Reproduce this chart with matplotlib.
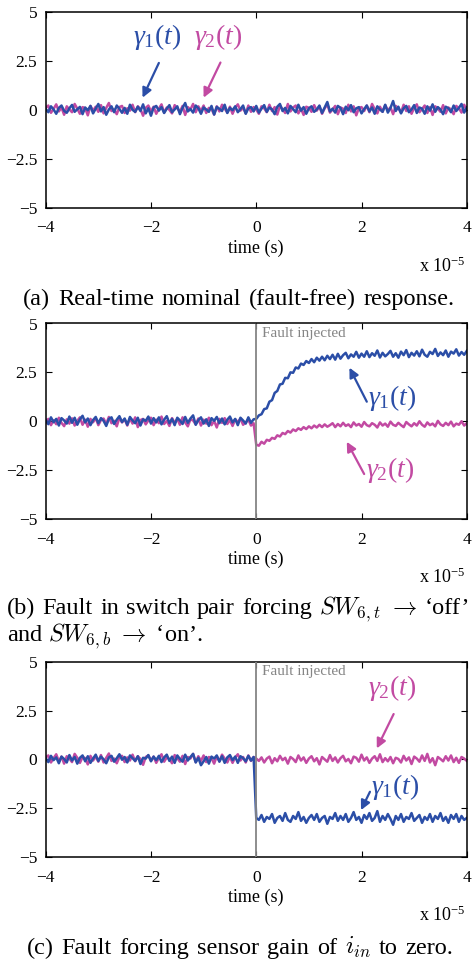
import numpy as np
import matplotlib
matplotlib.use('Agg')
import matplotlib.pyplot as plt

plt.rcParams['font.family'] = ['Liberation Serif', 'DejaVu Serif']
plt.rcParams['mathtext.fontset'] = 'custom'
plt.rcParams['mathtext.rm'] = 'Liberation Serif'
plt.rcParams['mathtext.it'] = 'Liberation Serif:italic'
plt.rcParams['mathtext.bf'] = 'Liberation Serif:bold'
plt.rcParams['axes.unicode_minus'] = True

# ---------------- data (time in units of 1e-5 s) ----------------
x_ticks = [-4, -2, 0, 2, 4]
x_ticklabels = ['\u22124', '\u22122', '0', '2', '4']
y_ticks = [-5, -2.5, 0, 2.5, 5]
y_ticklabels = ['\u22125', '\u22122.5', '0', '2.5', '5']

a_gamma1 = [
    0.05, -0.12, 0.18, 0.02, -0.20, 0.10, 0.22, -0.05, -0.15, 0.08,
    0.25, -0.10, 0.03, 0.15, -0.22, 0.12, -0.02, 0.20, -0.18, 0.06,
    0.30, -0.08, 0.14, -0.25, 0.02, 0.18, -0.12, 0.22, 0.05, -0.15,
    0.10, -0.20, 0.26, 0.00, -0.10, 0.16, -0.06, 0.28, -0.18, 0.08,
    -0.30, 0.12, 0.20, -0.04, 0.14, -0.16, 0.06, 0.24, -0.12, 0.02,
    0.18, -0.22, 0.10, 0.35, -0.08, 0.04, -0.14, 0.22, 0.08, -0.20,
    0.12, 0.02, -0.10, 0.20, -0.24, 0.15, 0.05, -0.06, 0.26, -0.16,
    0.10, -0.02, 0.18, -0.12, 0.04, 0.22, -0.20, 0.08, 0.14, -0.08,
    0.20,
    -0.14, 0.06, 0.24, -0.10, 0.12, 0.02, -0.22, 0.16, 0.30, -0.06,
    0.10, -0.18, 0.20, 0.04, -0.12, 0.26, -0.04, 0.14, -0.20, 0.08,
    0.18, -0.10, 0.02, 0.22, -0.16, 0.12, 0.40, -0.08, 0.06, -0.14,
    0.20, 0.10, -0.22, 0.16, -0.02, 0.24, -0.12, 0.08, 0.14, -0.18,
    0.04, 0.22, -0.08, 0.12, -0.20, 0.18, 0.02, -0.10, 0.26, -0.14,
    0.10, 0.45, -0.06, 0.16, -0.18, 0.08, 0.20, -0.12, 0.02, 0.24,
    -0.16, 0.12, 0.06, -0.20, 0.18, -0.04, 0.28, -0.10, 0.14, 0.02,
    -0.22, 0.16, 0.08, -0.12, 0.22, -0.06, 0.10, 0.30, -0.14, 0.12]

a_gamma2 = [
    0.10, 0.22, -0.15, 0.05, 0.28, -0.08, 0.12, -0.25, 0.18, 0.02,
    -0.12, 0.30, 0.06, -0.20, 0.14, 0.08, -0.28, 0.20, -0.04, 0.16,
    -0.10, 0.24, -0.18, 0.10, 0.35, -0.06, 0.02, -0.22, 0.14, 0.20,
    -0.16, 0.08, -0.04, 0.26, -0.12, 0.18, 0.04, -0.30, 0.10, 0.22,
    -0.08, 0.16, -0.20, 0.06, 0.28, -0.14, 0.12, 0.00, -0.18, 0.24,
    0.08, -0.10, 0.20, -0.26, 0.14, 0.02, 0.30, -0.12, 0.18, -0.06,
    0.22, -0.16, 0.10, 0.04, -0.24, 0.18, -0.08, 0.26, 0.06, -0.14,
    0.16, -0.20, 0.12, 0.28, -0.04, 0.10, -0.18, 0.22, -0.10, 0.14,
    0.02,
    -0.20, 0.18, 0.08, -0.12, 0.26, -0.06, 0.14, -0.24, 0.20, 0.04,
    -0.16, 0.30, -0.08, 0.12, 0.22, -0.18, 0.06, -0.26, 0.16, 0.10,
    -0.10, 0.24, -0.04, 0.18, -0.20, 0.08, 0.28, -0.14, 0.02, 0.20,
    -0.22, 0.12, 0.06, -0.16, 0.26, -0.08, 0.18, -0.28, 0.10, 0.14,
    -0.06, 0.22, -0.12, 0.30, 0.04, -0.18, 0.16, -0.10, 0.24, -0.02,
    0.12, -0.22, 0.20, 0.08, -0.14, 0.26, -0.06, 0.18, -0.20, 0.10,
    0.28, -0.12, 0.04, 0.22, -0.16, 0.14, -0.26, 0.18, 0.06, -0.10,
    0.24, -0.18, 0.12, 0.02, -0.22, 0.20, 0.08, -0.14, 0.26, -0.04]

b_gamma1 = [
    0.08, -0.15, 0.20, -0.05, 0.12, -0.22, 0.16, 0.04, -0.12, 0.24,
    -0.08, 0.18, -0.18, 0.10, 0.28, -0.06, 0.14, -0.20, 0.06, 0.22,
    -0.10, 0.16, 0.02, -0.24, 0.12, 0.20, -0.14, 0.08, 0.26, -0.04,
    0.14, -0.18, 0.22, 0.04, -0.10, 0.18, -0.22, 0.10, 0.02, 0.24,
    -0.12, 0.16, -0.06, 0.20, -0.16, 0.08, 0.26, -0.10, 0.12, -0.20,
    0.18, 0.04, -0.14, 0.22, -0.08, 0.14, 0.30, -0.18, 0.06, 0.20,
    -0.12, 0.10, -0.24, 0.16, 0.02, 0.22, -0.10, 0.14, -0.16, 0.08,
    0.24, -0.06, 0.12, -0.20, 0.18, 0.04, -0.12, 0.20, -0.08, 0.10,
    0.12,
    0.30, 0.36, 0.62, 0.66, 1.00, 1.08, 1.45, 1.55, 1.88, 1.92,
    2.22, 2.20, 2.50, 2.48, 2.75, 2.70, 2.95, 2.88, 3.08, 2.98,
    3.18, 3.02, 3.25, 3.10, 3.30, 3.12, 3.35, 3.18, 3.40, 3.15,
    3.45, 3.20, 3.38, 3.50, 3.22, 3.42, 3.30, 3.55, 3.25, 3.46,
    3.30, 3.58, 3.28, 3.48, 3.35, 3.62, 3.26, 3.50, 3.32, 3.44,
    3.60, 3.30, 3.48, 3.25, 3.56, 3.38, 3.64, 3.28, 3.50, 3.36,
    3.58, 3.32, 3.66, 3.40, 3.30, 3.55, 3.44, 3.70, 3.34, 3.52,
    3.38, 3.62, 3.30, 3.56, 3.46, 3.68, 3.36, 3.54, 3.40, 3.60]

b_gamma2 = [
    -0.10, 0.12, -0.20, 0.05, -0.15, 0.18, -0.08, -0.25, 0.10, -0.12,
    0.15, -0.22, 0.02, 0.20, -0.18, 0.08, -0.28, 0.12, -0.05, 0.16,
    -0.20, 0.06, 0.14, -0.14, 0.22, -0.10, 0.02, -0.26, 0.18, -0.06,
    0.10, -0.22, 0.14, -0.12, 0.20, -0.30, 0.06, 0.12, -0.16, 0.04,
    0.18, -0.20, 0.08, -0.10, 0.24, -0.14, 0.02, -0.24, 0.16, -0.08,
    0.12, -0.18, 0.20, -0.06, -0.26, 0.10, 0.04, -0.16, 0.14, -0.22,
    0.08, -0.12, 0.18, -0.20, 0.02, -0.32, 0.12, -0.08, 0.16, -0.14,
    0.06, -0.24, 0.10, -0.04, 0.14, -0.18, -0.06, 0.08, -0.22, -0.10,
    -1.20,
    -1.25, -1.05, -1.15, -0.95, -1.00, -0.85, -0.90, -0.72, -0.78, -0.60,
    -0.66, -0.50, -0.58, -0.42, -0.50, -0.36, -0.44, -0.30, -0.40, -0.26,
    -0.36, -0.22, -0.32, -0.18, -0.30, -0.16, -0.28, -0.20, -0.10, -0.30,
    -0.14, -0.26, -0.08, -0.24, -0.16, -0.30, -0.06, -0.22, -0.14, -0.28,
    -0.04, -0.20, -0.26, -0.10, -0.18, -0.32, -0.06, -0.22, -0.12, -0.28,
    -0.02, -0.18, -0.24, -0.08, -0.20, -0.30, -0.04, -0.16, -0.26, -0.10,
    -0.22, 0.00, -0.18, -0.28, -0.06, -0.20, -0.12, -0.26, 0.02, -0.16,
    -0.24, -0.08, -0.20, -0.02, -0.26, -0.12, -0.18, 0.00, -0.22, -0.10]

c_gamma1 = [
    0.06, -0.14, 0.18, -0.04, 0.10, -0.20, 0.14, 0.02, -0.16, 0.22,
    -0.06, 0.12, -0.22, 0.08, 0.20, -0.10, 0.16, -0.18, 0.04, 0.24,
    -0.08, 0.14, 0.00, -0.20, 0.10, 0.18, -0.12, 0.06, 0.26, -0.02,
    0.12, -0.16, 0.20, 0.06, -0.08, 0.16, -0.24, 0.08, 0.04, 0.22,
    -0.10, 0.14, -0.04, 0.18, -0.14, 0.10, 0.24, -0.08, 0.14, -0.18,
    0.20, 0.02, -0.12, 0.24, -0.06, 0.12, 0.28, -0.16, 0.08, -0.30,
    -0.10, 0.12, -0.22, 0.14, 0.04, 0.20, -0.12, 0.16, -0.18, 0.10,
    0.22, -0.04, 0.14, -0.18, 0.16, 0.06, -0.10, 0.18, -0.06, 0.12,
    -3.00,
    -3.10, -2.85, -3.20, -2.95, -3.05, -2.80, -3.25, -3.00, -2.90, -3.15,
    -2.75, -3.10, -3.20, -2.90, -3.05, -2.70, -3.15, -2.95, -3.25, -3.00,
    -2.85, -3.10, -2.80, -3.20, -3.00, -2.90, -3.30, -2.95, -3.05, -2.75,
    -3.15, -2.90, -3.10, -2.80, -3.20, -3.00, -2.70, -3.10, -2.95, -3.25,
    -2.85, -3.05, -2.75, -3.15, -3.00, -2.65, -3.20, -2.90, -3.10, -2.80,
    -3.05, -3.35, -2.90, -3.10, -2.80, -3.20, -2.95, -3.05, -2.75, -3.15,
    -3.00, -2.85, -3.25, -2.95, -3.10, -2.80, -3.20, -2.90, -3.05, -2.75,
    -3.15, -2.95, -3.25, -2.85, -3.05, -2.80, -3.20, -2.90, -3.10, -3.00]

c_gamma2 = [
    0.10, 0.20, -0.16, 0.06, 0.26, -0.10, 0.14, -0.22, 0.16, 0.04,
    -0.14, 0.28, 0.08, -0.18, 0.12, 0.06, -0.26, 0.18, -0.06, 0.14,
    -0.12, 0.22, -0.16, 0.08, 0.30, -0.08, 0.04, -0.20, 0.12, 0.18,
    -0.14, 0.10, -0.06, 0.24, -0.10, 0.16, 0.02, -0.28, 0.12, 0.20,
    -0.06, 0.14, -0.18, 0.08, 0.26, -0.12, 0.10, 0.02, -0.20, 0.22,
    0.06, -0.12, 0.18, -0.24, 0.12, 0.04, 0.28, -0.14, 0.16, -0.08,
    0.20, -0.14, 0.12, 0.06, -0.22, 0.16, -0.10, 0.24, 0.04, -0.16,
    0.14, -0.18, 0.10, 0.26, -0.06, 0.12, -0.16, 0.20, -0.08, 0.12,
    0.04,
    -0.08, 0.10, -0.16, 0.04, 0.14, -0.20, 0.06, -0.10, 0.18, -0.04,
    0.08, -0.22, 0.12, 0.02, -0.14, 0.20, -0.06, 0.10, -0.18, 0.04,
    0.16, -0.10, 0.06, -0.26, 0.12, 0.00, -0.12, 0.22, -0.08, 0.10,
    -0.16, 0.06, 0.18, -0.10, 0.02, -0.20, 0.14, 0.08, -0.12, 0.24,
    -0.06, 0.10, -0.18, 0.04, 0.16, -0.08, 0.26, -0.14, 0.06, -0.10,
    0.12, -0.20, 0.08, 0.02, -0.16, 0.18, -0.06, 0.10, -0.24, 0.14,
    0.04, -0.12, 0.20, -0.08, 0.28, -0.16, 0.06, -0.30, 0.12, 0.02,
    -0.10, 0.16, -0.06, 0.20, -0.14, 0.08, -0.18, 0.12, 0.04, -0.08]

time_axis = np.linspace(-4, 4, len(a_gamma1))

BLUE = '#2B4EA7'
MAG = '#C24AA2'
GREY = '#858585'

W, H = 472, 961
fig = plt.figure(figsize=(W / 100, H / 100), dpi=100)


def fx(px):
    return px / W


def fy(py):
    return 1 - py / H


panel_px = [(11.7, 208.0), (323.5, 519.0), (661.7, 857.0)]
LEFT, RIGHT = 45.7, 466.8

series = [(a_gamma1, a_gamma2, False),
          (b_gamma1, b_gamma2, True),
          (c_gamma1, c_gamma2, True)]

G1 = r'$\gamma_{\mathit{1}}\mathit{(t)}$'
G2 = r'$\gamma_{\mathit{2}}\mathit{(t)}$'
annots = [
    [(G1, BLUE, (-1.89, 3.72), (-1.85, 2.39), (-2.16, 0.62)),
     (G2, MAG, (-0.73, 3.72), (-0.68, 2.41), (-1.0, 0.62))],
    [(G1, BLUE, (2.58, 1.17), (2.1, 1.0), (1.77, 2.74)),
     (G2, MAG, (2.55, -2.49), (2.05, -2.7), (1.72, -1.05))],
    [(G2, MAG, (2.58, 3.63), (2.61, 2.32), (2.29, 0.56)),
     (G1, BLUE, (2.64, -1.4), (2.16, -1.66), (1.99, -2.6))],
]

for i, ((top, bot), (g1, g2, fault)) in enumerate(zip(panel_px, series)):
    ax = fig.add_axes([fx(LEFT), fy(bot), (RIGHT - LEFT) / W, (bot - top) / H])
    ax.plot(time_axis, g2, color=MAG, lw=1.8, zorder=2)
    ax.plot(time_axis, g1, color=BLUE, lw=1.8, zorder=2.5)
    if fault:
        ax.axvline(0, color=GREY, lw=1.3, zorder=3)
        ax.text(0.11, 4.5, 'Fault injected', color=GREY, fontsize=11,
                ha='left', va='center')
    ax.set_xlim(-4, 4)
    ax.set_ylim(-5, 5)
    ax.set_xticks(x_ticks)
    ax.set_xticklabels(x_ticklabels)
    ax.set_yticks(y_ticks)
    ax.set_yticklabels(y_ticklabels)
    ax.tick_params(direction='in', top=True, right=True, length=4, width=0.8,
                   labelsize=12.5)
    ax.tick_params(axis='x', pad=9)
    ax.tick_params(axis='y', pad=6)
    for sp in ax.spines.values():
        sp.set_linewidth(1.1)
    for lab, col, txy, tail, head in annots[i]:
        ax.text(txy[0], txy[1], lab, color=col, fontsize=20, ha='center',
                va='center')
        ax.annotate('', xy=head, xytext=tail,
                    arrowprops=dict(arrowstyle='-|>', color=col, lw=1.6,
                                    mutation_scale=14, shrinkA=0, shrinkB=0))
    fig.text(fx((LEFT + RIGHT) / 2), fy(bot + 40), 'time (s)', fontsize=13,
             ha='center', va='center')
    fig.text(fx(466), fy(bot + 64), r'x 10$^{\mathregular{-5}}$', fontsize=13,
             ha='right', va='baseline')

renderer = fig.canvas.get_renderer()


def justify(words, x0, x1, yb, size):
    texts = [fig.text(0, 0, w, fontsize=size, math_fontfamily='cm',
                      va='baseline', ha='left') for w in words]
    widths = [t.get_window_extent(renderer).width for t in texts]
    gap = (x1 - x0 - sum(widths)) / (len(words) - 1)
    x = x0
    for t, w in zip(texts, widths):
        t.set_position((fx(x), fy(yb)))
        x += w + gap


CAP = 17.5
justify(['(a)', 'Real-time', 'nominal', '(fault-free)', 'response.'],
        23, 455, 305, CAP)
justify(['(b)', 'Fault', 'in', 'switch', 'pair', 'forcing', r'$SW_{6,t}$',
         r'$\rightarrow$', '\u2018off\u2019'], 7, 470, 614, CAP)
fig.text(fx(7), fy(641), 'and $SW_{6,b}$ $\\rightarrow$ \u2018on\u2019.',
         fontsize=CAP, math_fontfamily='cm', va='baseline', ha='left')
justify(['(c)', 'Fault', 'forcing', 'sensor', 'gain', 'of', r'$i_{in}$', 'to',
         'zero.'], 27, 453, 954, CAP)

fig.savefig('out.png', dpi=100)
